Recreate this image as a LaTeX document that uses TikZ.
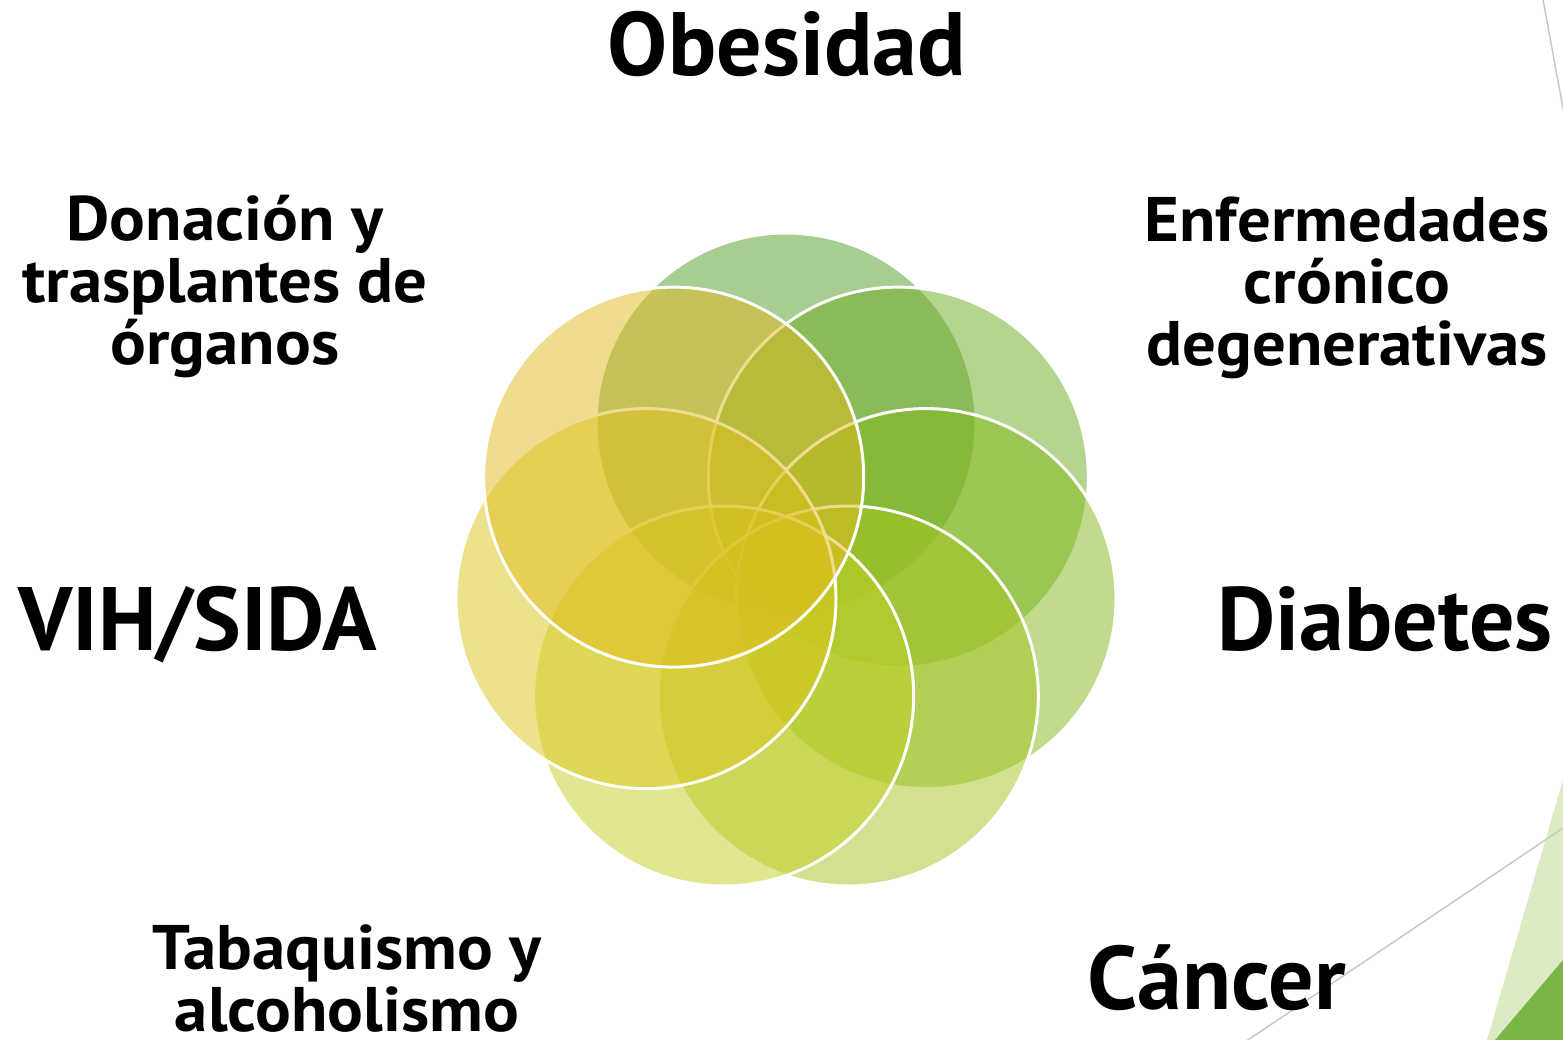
\documentclass[tikz,border=0pt]{standalone}
\usepackage{fontspec}
\setmainfont{PT Sans}
\newfontfamily\widesans[FakeStretch=1.06]{PT Sans}
\usetikzlibrary{positioning}
\definecolor{petalA}{HTML}{539D23}
\definecolor{petalB}{HTML}{6DAB21}
\definecolor{petalC}{HTML}{85B91B}
\definecolor{petalD}{HTML}{A5C521}
\definecolor{petalE}{HTML}{C5CF25}
\definecolor{petalF}{HTML}{DDC71B}
\definecolor{petalG}{HTML}{E3BB1F}
\definecolor{facetlight}{HTML}{DDEBC4}
\definecolor{facetdark}{HTML}{7AB547}
\definecolor{facetline}{HTML}{C8C8C8}
\tikzset{petal/.style={draw=white,line width=3pt,circle,inner sep=0pt,minimum size=380pt,fill opacity=0.5}}
\tikzset{bigtxt/.style={inner sep=0pt,font=\fontsize{90}{90}\selectfont\bfseries}}
\tikzset{midtxt/.style={inner sep=0pt,align=center,font=\widesans\fontsize{63}{62}\selectfont\bfseries}}

\begin{document}
\begin{tikzpicture}[x=1pt,y=-1pt]
\fill[white] (0,0) rectangle (1563,1040);
\useasboundingbox (0,0) rectangle (1563,1040);
\clip (0,0) rectangle (1563,1040);

\fill[facetlight] (1487,1040) -- (1563,780) -- (1570,780) -- (1570,1050) -- (1487,1050) -- cycle;
\fill[facetdark] (1495,1040) -- (1563,960) -- (1570,960) -- (1570,1050) -- (1495,1050) -- cycle;
\draw[facetline,line width=1.5pt] (1539.4,-20) -- (1566,124.6);
\draw[facetline,line width=1.5pt] (1233,1050) -- (1580,816.6);

\node[petal,fill=petalA] (obe) at (786,423) {};
\node[petal,fill=petalB] (enf) at (898.3,477.1) {};
\node[petal,fill=petalC] (dia) at (926,598.6) {};
\node[petal,fill=petalD] (can) at (848.3,696) {};
\node[petal,fill=petalE] (tab) at (723.7,696) {};
\node[petal,fill=petalF] (vih) at (646,598.6) {};
\node[petal,fill=petalG] (don) at (673.7,477.1) {};

\node[bigtxt,anchor=base] (obelbl) at (787,76) {Obesidad};
\node[midtxt,anchor=base] (donlbl) at (225,365) {Donación y\\trasplantes de\\órganos};
\node[midtxt,anchor=base] (enflbl) at (1347,366) {Enfermedades\\crónico\\degenerativas};
\node[bigtxt,anchor=base west] (vihlbl) at (18,650) {VIH/SIDA};
\node[bigtxt,anchor=base east] (dialbl) at (1553,650) {Diabetes};
\node[bigtxt,anchor=base west] (canlbl) at (1087,1009) {Cáncer};
\node[midtxt,anchor=base] (tablbl) at (347,1031) {Tabaquismo y\\alcoholismo};
\end{tikzpicture}
\end{document}
